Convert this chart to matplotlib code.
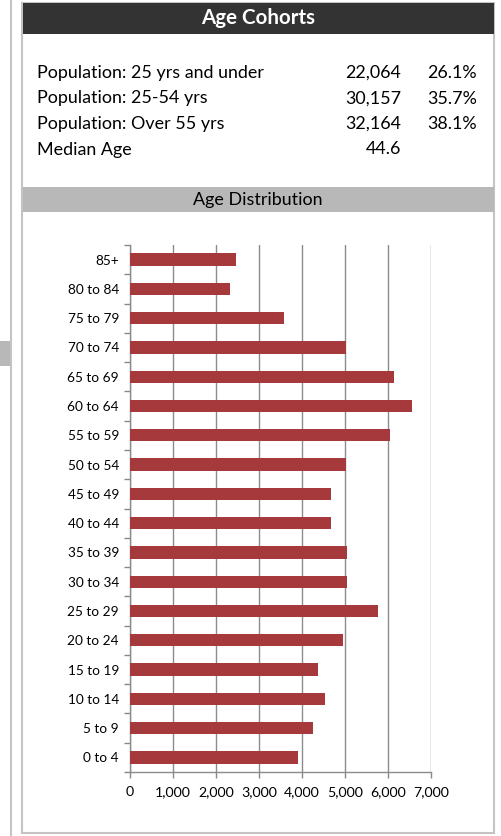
import matplotlib
matplotlib.use("Agg")
import matplotlib.pyplot as plt
from matplotlib.patches import Rectangle
from matplotlib.lines import Line2D

plt.rcParams['font.family'] = ['Lato', 'DejaVu Sans']

# ---- data ----
age_groups = ["0 to 4", "5 to 9", "10 to 14", "15 to 19", "20 to 24", "25 to 29",
              "30 to 34", "35 to 39", "40 to 44", "45 to 49", "50 to 54", "55 to 59",
              "60 to 64", "65 to 69", "70 to 74", "75 to 79", "80 to 84", "85+"]
population = [3918, 4267, 4546, 4383, 4965, 5756, 5058, 5035, 4663, 4663, 5012,
              6036, 6548, 6129, 5012, 3592, 2335, 2467]

stat_labels = ["Population: 25 yrs and under", "Population: 25-54 yrs",
               "Population: Over 55 yrs", "Median Age"]
stat_values = ["22,064", "30,157", "32,164", "44.6"]
stat_pcts = ["26.1%", "35.7%", "38.1%", ""]

x_ticks = [0, 1000, 2000, 3000, 4000, 5000, 6000, 7000]

W, H = 502, 836
fig = plt.figure(figsize=(W / 100, H / 100), dpi=100)
fig.patch.set_facecolor("white")

# background overlay axes in pixel coords (y downward)
bg = fig.add_axes([0, 0, 1, 1])
bg.set_xlim(0, W)
bg.set_ylim(H, 0)
bg.axis("off")

border = "#c4c4c4"
# left partial panel
bg.add_patch(Rectangle((0, 341), 11, 25, facecolor="#b8b8b8", edgecolor="none"))
bg.add_line(Line2D([11.5, 11.5], [0, H], color=border, lw=1.5))
# main panel border
bg.add_patch(Rectangle((22, 3), 472, 830, facecolor="white", edgecolor=border, lw=1.5))
# header
bg.add_patch(Rectangle((23, 3), 471, 31, facecolor="#333333", edgecolor="none"))
bg.text(258, 18.5, "Age Cohorts", color="white", fontsize=14.8, fontweight="bold",
        ha="center", va="center")

# stats
row_y = [73, 98.5, 124, 149.5]
for yy, lab, val, pct in zip(row_y, stat_labels, stat_values, stat_pcts):
    bg.text(37, yy, lab, fontsize=12.9, ha="left", va="center", color="black")
    bg.text(401, yy, val, fontsize=12.9, ha="right", va="center", color="black")
    if pct:
        bg.text(477, yy, pct, fontsize=12.9, ha="right", va="center", color="black")

# age distribution band
bg.add_patch(Rectangle((23, 187), 471, 25, facecolor="#b8b8b8", edgecolor="none"))
bg.text(258, 200, "Age Distribution", fontsize=12.9, ha="center", va="center", color="black")

# chart axes
left, right, top, bottom = 130, 431, 245, 772
ax = fig.add_axes([left / W, (H - bottom) / H, (right - left) / W, (bottom - top) / H])
ax.set_facecolor("none")
ypos = list(range(len(age_groups)))
ax.barh(ypos, population, height=0.42, color="#a5393b", zorder=3)
ax.set_xlim(0, 7000)
ax.set_ylim(-0.5, len(age_groups) - 0.5)
ax.set_xticks(x_ticks)
ax.set_xticklabels([f"{v:,}" for v in x_ticks], fontsize=10.2)
ax.set_yticks(ypos)
ax.set_yticklabels(age_groups, fontsize=9.8)
ax.set_yticks([i - 0.5 for i in range(len(age_groups) + 1)], minor=True)
ax.tick_params(axis="y", which="major", length=0, pad=8)
ax.tick_params(axis="y", which="minor", length=4, color="#888888", width=1)
ax.tick_params(axis="x", which="major", length=4, color="#888888", width=1, pad=6)
ax.grid(axis="x", color="#8c8c8c", lw=1, zorder=0)
for s in ["top", "right"]:
    ax.spines[s].set_visible(False)
for s in ["left", "bottom"]:
    ax.spines[s].set_color("#8c8c8c")
    ax.spines[s].set_linewidth(1)

fig.savefig("out.png", dpi=100)
